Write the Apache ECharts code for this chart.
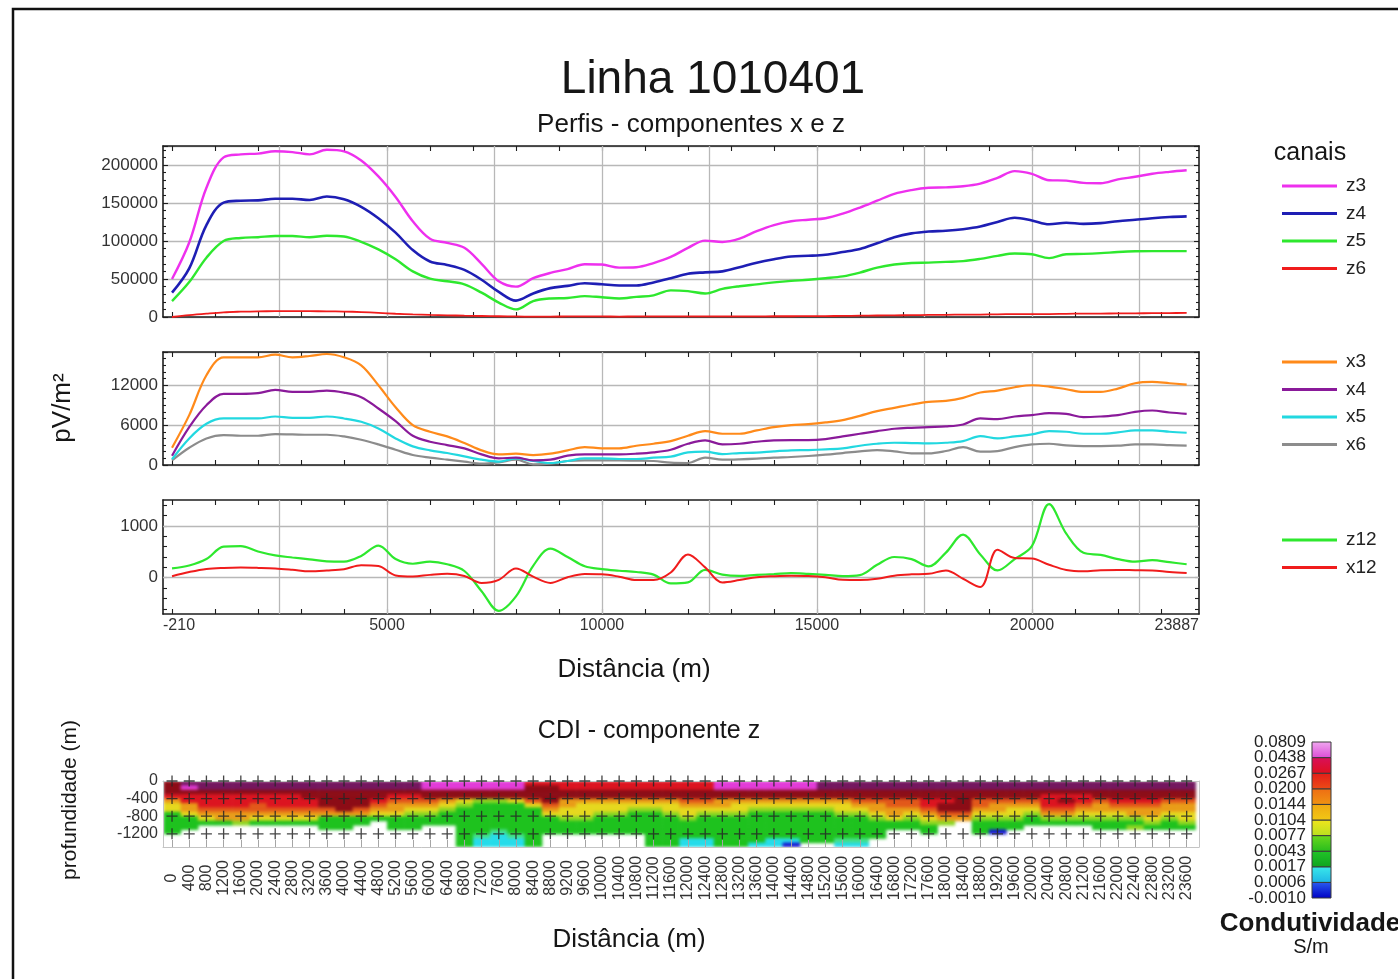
<!DOCTYPE html>
<html lang="pt">
<head>
<meta charset="utf-8">
<title>Linha 1010401</title>
<script src="https://cdn.jsdelivr.net/npm/echarts@6.0.0/dist/echarts.min.js"></script>
<style>
  html, body { margin: 0; padding: 0; background: #fff; }
  #wrap { position: relative; width: 1398px; height: 979px; }
  #chart { position: absolute; left: 0; top: 0; width: 1398px; height: 979px; }
  /* the CDI section is a smoothly interpolated model: its cells are drawn in their own layer and softened */
  #cdiClip { position: absolute; left: 163px; top: 781px; width: 1036px; height: 66px; overflow: hidden; }
  #cdi { position: absolute; left: -163px; top: -781px; width: 1398px; height: 979px; filter: blur(1.6px); }
</style>
</head>
<body>
<div id="wrap">
  <div id="cdiClip"><div id="cdi"></div></div>
  <div id="chart"></div>
</div>
<script>
// Stations along the line (m)
const distance = [0, 400, 800, 1200, 1600, 2000, 2400, 2800, 3200, 3600, 4000, 4400, 4800, 5200, 5600, 6000,
  6400, 6800, 7200, 7600, 8000, 8400, 8800, 9200, 9600, 10000, 10400, 10800, 11200, 11600, 12000, 12400,
  12800, 13200, 13600, 14000, 14400, 14800, 15200, 15600, 16000, 16400, 16800, 17200, 17600, 18000, 18400,
  18800, 19200, 19600, 20000, 20400, 20800, 21200, 21600, 22000, 22400, 22800, 23200, 23600];

// z channels (pV/m²)
const z3 = [50000, 98000, 170000, 210000, 214000, 215000, 218000, 217000, 214000, 220000, 218000, 206000, 185000,
  158000, 126000, 103000, 97500, 91000, 70000, 47000, 40000, 51000, 58000, 63000, 69500, 69000, 65000, 65500,
  71000, 79000, 91000, 100500, 98700, 103000, 113000, 121000, 126000, 128000, 130000, 136000, 144000, 153000,
  162000, 167000, 170000, 170600, 172000, 175500, 183000, 192000, 188400, 180000, 179500, 176500, 176000,
  181000, 184500, 188500, 191000, 193000];
const z4 = [32000, 64000, 121000, 150500, 153000, 153500, 155500, 155500, 154000, 158500, 155000, 145000, 130000,
  111000, 88000, 73000, 68500, 62000, 49000, 33000, 21500, 31000, 38000, 41000, 44500, 43000, 41500, 41500,
  45500, 51000, 57000, 58700, 60000, 65500, 71500, 76000, 79500, 80500, 82000, 85500, 89500, 97000, 105000,
  110000, 112500, 113500, 115500, 119000, 125000, 130500, 127000, 122000, 124000, 122500, 123500, 126000,
  128000, 130000, 131500, 132400];
const z5 = [21000, 46000, 78000, 100000, 104000, 105000, 106500, 106500, 105000, 107000, 106000, 99000, 89000,
  76000, 60000, 50500, 47000, 43000, 32000, 19000, 10000, 21000, 24400, 25000, 27500, 26000, 24400, 26500,
  28500, 35000, 34000, 31000, 37000, 40500, 43000, 45500, 47500, 49000, 51000, 53500, 58500, 65000, 69000,
  71000, 71500, 72500, 73500, 76500, 80500, 83500, 82500, 77500, 82500, 83000, 84000, 85500, 86500, 86700,
  86700, 86700];
const z6 = [0, 2500, 4500, 6200, 7000, 7500, 7600, 7700, 7600, 7500, 7200, 6500, 5500, 4300, 3400, 2700, 2200,
  1700, 1300, 1000, 700, 500, 600, 700, 800, 700, 600, 700, 800, 900, 800, 700, 800, 900, 900, 1000, 1000,
  1100, 1200, 1400, 1700, 2000, 2200, 2400, 2700, 2900, 3100, 3200, 3500, 3800, 3900, 3900, 4200, 4400, 4500,
  4700, 4900, 5000, 5200, 5300];

// x channels (pV/m²)
const x3 = [2600, 7500, 13500, 16200, 16200, 16200, 16600, 16200, 16400, 16700, 16200, 15000, 12000, 8700, 6000,
  5000, 4300, 3300, 2200, 1600, 1700, 1500, 1700, 2200, 2700, 2500, 2500, 2900, 3200, 3600, 4400, 5100, 4700,
  4700, 5200, 5700, 6000, 6150, 6400, 6750, 7400, 8100, 8600, 9100, 9500, 9650, 10100, 10900, 11200, 11700,
  12000, 11800, 11400, 11000, 11000, 11500, 12300, 12500, 12300, 12100];
const x4 = [1400, 5700, 9000, 10700, 10700, 10800, 11300, 11000, 11000, 11200, 10900, 10200, 8500, 6600, 4400,
  3500, 3000, 2500, 1600, 1000, 1100, 700, 800, 1400, 1600, 1600, 1600, 1700, 1900, 2300, 3200, 3700, 3100,
  3200, 3500, 3700, 3750, 3750, 3900, 4300, 4700, 5100, 5450, 5600, 5700, 5800, 6100, 7000, 6900, 7300, 7500,
  7800, 7700, 7200, 7300, 7500, 8000, 8200, 7900, 7700];
const x5 = [860, 4000, 6200, 7000, 7000, 7000, 7300, 7100, 7100, 7300, 7000, 6500, 5500, 4000, 2800, 2200, 1800,
  1300, 800, 500, 1000, 600, 300, 600, 1000, 1000, 900, 900, 1100, 1250, 1900, 2000, 1650, 1800, 1850, 2050,
  2200, 2250, 2350, 2500, 2900, 3200, 3350, 3300, 3250, 3350, 3600, 4350, 4000, 4300, 4600, 5100, 5000, 4700,
  4700, 4900, 5200, 5200, 5000, 4850];
const x6 = [700, 2600, 4000, 4500, 4400, 4400, 4650, 4600, 4550, 4550, 4300, 3800, 3100, 2300, 1500, 1100, 800,
  500, 200, 400, 800, 100, 200, 600, 700, 700, 700, 650, 600, 350, 300, 1100, 800, 850, 950, 1100, 1200, 1350,
  1550, 1800, 2050, 2250, 2050, 1750, 1750, 2100, 2700, 2000, 2100, 2700, 3100, 3200, 2950, 2850, 2850, 2900,
  3100, 3100, 3000, 2900];

// channel 12
const z12 = [180, 235, 360, 600, 610, 505, 430, 390, 355, 315, 310, 420, 620, 360, 270, 310, 260, 130, -260, -640,
  -360, 230, 560, 400, 220, 165, 135, 110, 60, -110, -90, 150, 60, 35, 55, 70, 90, 75, 55, 30, 50, 250, 400, 360,
  220, 485, 830, 450, 140, 360, 610, 1420, 850, 480, 440, 360, 310, 340, 300, 260];
const x12 = [30, 110, 170, 190, 195, 190, 180, 155, 125, 140, 165, 240, 225, 45, 25, 55, 75, 35, -100, -40, 180,
  20, -100, 10, 70, 65, 20, -45, -45, 100, 450, 200, -90, -45, 10, 30, 40, 35, 10, -40, -45, -20, 40, 65, 75,
  140, -20, -180, 540, 380, 370, 250, 150, 125, 145, 150, 145, 140, 110, 90];

// Distance axis
const xRange = [-210, 23887];
const xLabelValues = [-210, 5000, 10000, 15000, 20000, 23887];
const xGridValues = [2500, 5000, 7500, 10000, 12500, 15000, 17500, 20000, 22500];

// CDI section: one string per station, top to bottom in 100 m steps; '.' = no model
const cdiDepthLabels = [0, -400, -800, -1200];
const cdiColumns = [
  'dddrayyGGGGG...', 'pmdrraayGGG....', 'ppdrrroayG.....', 'ppdrrroaaG.....', 'ppdrrroaag.....',
  'ppdrrooayG.....', 'ppdrrroayG.....', 'ppdrrroayG.....', 'ppddrroayG.....', 'ppddddoaGGG....',
  'ppdddddaGGG....', 'ppddddoaGG.....', 'ppddroayG......', 'ppdroaayGGG....', 'ppdroaygGGG....',
  'mmddoaygGG.....', 'mmddaygGGG.....', 'mmddygGGGGGGGGG', 'mmddgGGGGGGGlcc', 'mmddgGGGGGGlccc',
  'mmddyGGGGGGGlcc', 'rdddoyGGGGGGGGG', 'rddddoayGGGG...', 'rrddaayygGGG...', 'rrddayyygGGG...',
  'rrddayygGGGG...', 'rrddayygGGGG...', 'rrddaygGGGGG...', 'rrddaygGGGGGGGG', 'rrddayygGGGGGGG',
  'rrddoayygGGGGcc', 'rrddoaygGGGGGcc', 'mmddaaygGGGGGGG', 'mmddayygGGGGGGG', 'mmddaygGGGGGGGc',
  'mmddaygGGGGGGcc', 'mmddaygGGGGGGcb', 'mmddaygGGGGGGG.', 'ppddaygGGGGGGG.', 'ppddayygGGGGGlc',
  'ppddoaygGGGGGlc', 'ppddoaaygGGGG..', 'ppddooaayGG....', 'ppddooaygGG....', 'ppddrroaygGG...',
  'ppddrddoag.....', 'ppdddddoa......', 'ppddooaygGGG...', 'ppddoaaygGGb...', 'ppddoayygGG....',
  'ppddoaygGG.....', 'ppdrrroagG.....', 'ppdrdroagG.....', 'ppdrroaygG.....', 'ppddoaaygGG....',
  'ppddroaygGG....', 'ppddroaagGg....', 'ppddroaaygG....', 'ppddoaaygGG....', 'ppddoaayygG....'
];
const cdiClassCodes = 'bclGgyaordmp';
const cdiPalette = ['#1414d2', '#26dcea', '#44e08a', '#1ec21e', '#8ed622', '#e6d81e',
                    '#e99c18', '#e2581a', '#dc1420', '#8c0c16', '#e23cd8', '#74175f'];

// Conductivity scale (S/m), bottom to top
const colorBounds = [-0.0010, 0.0006, 0.0017, 0.0043, 0.0077, 0.0104, 0.0144, 0.0200, 0.0267, 0.0438, 0.0809];
const colorbarColors = [
  ['#0000c4', '#2a5cf0'], ['#1eb4e6', '#3aeaea'], ['#0ea41e', '#22c428'], ['#26bc1e', '#6cd81c'],
  ['#b8e020', '#f2e41c'], ['#f2c814', '#f0a812'], ['#f09412', '#ee6c14'], ['#ec4c16', '#e41c18'],
  ['#e0101c', '#d8105c'], ['#dc4cd6', '#f0a8f0']
];

const FONT = '"Liberation Sans", Arial, Helvetica, sans-serif';
const DARK = '#1e1e1e';
const GRID_GRAY = '#b8b8b8';
const LABEL = '#333';

const minorX = [];
for (let v = 0; v <= 23000; v += 1000) minorX.push(v);
const minorCh12 = [];
for (let v = -600; v <= 1400; v += 200) minorCh12.push(v);

const pairs = vals => distance.map((d, i) => [d, vals[i]]);
const plain = v => String(v);

const frameStyle = { color: DARK, width: 1.6 };
const tickStyle = { color: DARK, width: 1.1 };

function profileX(gridIndex, position, withLabels) {
  return {
    type: 'value', gridIndex, position, min: xRange[0], max: xRange[1],
    axisLine: { show: true, onZero: false, lineStyle: frameStyle },
    axisTick: { show: true, inside: true, length: 5, customValues: minorX, lineStyle: tickStyle },
    axisLabel: withLabels ? {
      show: true, customValues: xLabelValues, fontSize: 16, color: LABEL, margin: 4,
      alignMinLabel: 'left', alignMaxLabel: 'right', formatter: plain
    } : { show: false },
    splitLine: { show: false }
  };
}

function profileY(gridIndex, position, cfg, withLabels) {
  const axis = {
    type: 'value', gridIndex, position, min: cfg.min, max: cfg.max,
    axisLine: { show: true, onZero: false, lineStyle: frameStyle },
    axisTick: { show: true, inside: true, length: 5, lineStyle: tickStyle },
    axisLabel: { show: withLabels, fontSize: 17, color: LABEL, margin: 5, formatter: plain },
    splitLine: { show: withLabels && !cfg.labels, lineStyle: { color: GRID_GRAY, width: 1.3 } }
  };
  if (cfg.labels) {
    axis.axisLabel.customValues = cfg.labels;
    axis.axisLabel.showMinLabel = true;
    axis.axisLabel.showMaxLabel = true;
    axis.axisTick.customValues = cfg.ticks;
    axis.axisTick.length = 4;
  } else {
    axis.interval = cfg.interval;
    axis.axisLabel.showMaxLabel = false;
    axis.minorTick = { show: true, splitNumber: cfg.minor, length: 3, lineStyle: tickStyle };
  }
  return axis;
}

function gridMarks(extraY) {
  const data = xGridValues.map(v => ({ xAxis: v }));
  (extraY || []).forEach(v => data.push({ yAxis: v }));
  return {
    silent: true, symbol: ['none', 'none'], z: 1, animation: false,
    label: { show: false }, emphasis: { disabled: true },
    lineStyle: { color: GRID_GRAY, width: 1.3, type: 'solid' }, data
  };
}

function profile(name, vals, color, width, axisIndex, marks) {
  const s = {
    name, type: 'line', xAxisIndex: axisIndex, yAxisIndex: axisIndex, data: pairs(vals),
    symbol: 'none', showSymbol: false, smooth: 0.35, color, silent: true, z: 3,
    lineStyle: { color, width }
  };
  if (marks) s.markLine = marks;
  return s;
}

// CDI cells, one rect per station and 100 m depth step
const cdiCells = [];
cdiColumns.forEach((col, k) => {
  for (let i = 0; i < col.length; i++) {
    const cls = cdiClassCodes.indexOf(col.charAt(i));
    if (cls >= 0) cdiCells.push([distance[k], -100 * i, cls]);
  }
});
const crossMarks = [];
distance.forEach(d => cdiDepthLabels.forEach(z => crossMarks.push([d, z])));

const grayLine = { color: '#c4c4c4', width: 1 };
const cdiGrid = { left: 163, top: 781, width: 1036, height: 66, outerBoundsMode: 'none' };
// colour scale: bins 0..10 on a value axis padded by half a bin
const scaleGrid = { left: 1312, top: 734.2, width: 19, height: 171.6, outerBoundsMode: 'none' };
const scaleIndex = colorBounds.map((b, i) => i);

function scaleAxis(gridIndex, labelValues) {
  return {
    type: 'value', gridIndex, min: -0.5, max: 10.5,
    axisLine: { show: false }, axisTick: { show: false }, splitLine: { show: false },
    axisLabel: {
      show: true, customValues: labelValues, fontSize: 17, color: '#222', margin: 6,
      showMinLabel: true, showMaxLabel: true, hideOverlap: false,
      formatter: v => colorBounds[Math.round(v)].toFixed(4)
    }
  };
}

const legendBase = {
  orient: 'vertical', left: 1282, padding: 0, itemWidth: 55, itemHeight: 3, icon: 'rect',
  itemGap: 7.5, selectedMode: false,
  textStyle: { fontSize: 19, color: '#222', lineHeight: 20, padding: [0, 0, 0, 4], fontFamily: FONT }
};

const texts = [
  { text: 'Linha 1010401', x: 713, y: 80, size: 46 },
  { text: 'Perfis - componentes x e z', x: 691, y: 125, size: 26 },
  { text: 'canais', x: 1310, y: 153, size: 25 },
  { text: 'pV/m²', x: 63, y: 408, size: 26, rotate: true },
  { text: 'Distância (m)', x: 634, y: 670, size: 26 },
  { text: 'CDI - componente z', x: 649, y: 731, size: 25 },
  { text: 'profundidade (m)', x: 70, y: 800, size: 21, rotate: true },
  { text: 'Distância (m)', x: 629, y: 940, size: 26 },
  { text: 'Condutividade', x: 1310, y: 924, size: 26, bold: true },
  { text: 'S/m', x: 1311, y: 947, size: 20 }
];

const graphic = [{
  type: 'rect', silent: true, shape: { x: 13, y: 9, width: 1420, height: 1000 },
  style: { fill: 'none', stroke: '#111', lineWidth: 2.5 }
}].concat(texts.map(t => ({
  type: 'text', silent: true, x: t.x, y: t.y, rotation: t.rotate ? Math.PI / 2 : 0,
  style: {
    text: t.text, fill: '#161616', align: 'center', verticalAlign: 'middle',
    fontSize: t.size, fontWeight: t.bold ? 'bold' : 'normal', fontFamily: FONT
  }
})));

// Softened CDI model layer (same grid geometry as the section frame)
const cdiOption = {
  animation: false,
  grid: [cdiGrid],
  xAxis: [{ type: 'value', min: xRange[0], max: xRange[1], show: false }],
  yAxis: [{ type: 'value', min: -1500, max: 0, show: false }],
  series: [{
    type: 'custom', name: 'CDI', silent: true, clip: true, data: cdiCells,
    renderItem(params, api) {
      const x = api.value(0), top = api.value(1);
      const p0 = api.coord([x - 200, top]);
      const p1 = api.coord([x + 200, top - 100]);
      return {
        type: 'rect',
        shape: { x: p0[0], y: p0[1], width: p1[0] - p0[0] + 0.6, height: p1[1] - p0[1] + 0.6 },
        style: { fill: cdiPalette[api.value(2)] }
      };
    }
  }]
};

const option = {
  animation: false,
  backgroundColor: 'transparent',
  textStyle: { fontFamily: FONT },
  graphic,
  legend: [
    Object.assign({}, legendBase, { top: 176, data: ['z3', 'z4', 'z5', 'z6'] }),
    Object.assign({}, legendBase, { top: 352, data: ['x3', 'x4', 'x5', 'x6'] }),
    Object.assign({}, legendBase, { top: 530, data: ['z12', 'x12'] })
  ],
  grid: [
    { left: 163, top: 146, width: 1036, height: 171, outerBoundsMode: 'none' },
    { left: 163, top: 352, width: 1036, height: 113, outerBoundsMode: 'none' },
    { left: 163, top: 500, width: 1036, height: 114, outerBoundsMode: 'none' },
    cdiGrid,
    scaleGrid,
    Object.assign({}, scaleGrid)
  ],
  xAxis: [
    profileX(0, 'bottom', false), profileX(0, 'top', false),
    profileX(1, 'bottom', false), profileX(1, 'top', false),
    profileX(2, 'bottom', true), profileX(2, 'top', false),
    {
      type: 'value', gridIndex: 3, position: 'bottom', min: xRange[0], max: xRange[1],
      axisLine: { show: true, onZero: false, lineStyle: grayLine },
      axisTick: { show: true, inside: true, length: 7, customValues: distance, lineStyle: { color: '#a6a6a6' } },
      axisLabel: {
        show: true, customValues: distance, rotate: 90, align: 'center', verticalAlign: 'middle',
        fontSize: 16, color: LABEL, margin: 31, formatter: plain
      },
      splitLine: { show: false }
    },
    {
      type: 'value', gridIndex: 3, position: 'top', min: xRange[0], max: xRange[1],
      axisLine: { show: true, onZero: false, lineStyle: grayLine },
      axisTick: { show: false }, axisLabel: { show: false }, splitLine: { show: false }
    },
    { type: 'value', gridIndex: 4, min: 0, max: 1, show: false },
    { type: 'value', gridIndex: 5, min: 0, max: 1, show: false }
  ],
  yAxis: [
    profileY(0, 'left', { min: 0, max: 225000, interval: 50000, minor: 5 }, true),
    profileY(0, 'right', { min: 0, max: 225000, interval: 50000, minor: 5 }, false),
    profileY(1, 'left', { min: 0, max: 17000, interval: 6000, minor: 6 }, true),
    profileY(1, 'right', { min: 0, max: 17000, interval: 6000, minor: 6 }, false),
    profileY(2, 'left', { min: -700, max: 1500, labels: [0, 1000], ticks: minorCh12 }, true),
    profileY(2, 'right', { min: -700, max: 1500, labels: [0, 1000], ticks: minorCh12 }, false),
    {
      type: 'value', gridIndex: 3, position: 'left', min: -1500, max: 0,
      axisLine: { show: true, onZero: false, lineStyle: grayLine },
      axisTick: { show: false },
      axisLabel: {
        show: true, customValues: cdiDepthLabels, fontSize: 16, color: LABEL, margin: 5,
        showMinLabel: true, showMaxLabel: true, formatter: plain
      },
      splitLine: { show: false }
    },
    {
      type: 'value', gridIndex: 3, position: 'right', min: -1500, max: 0,
      axisLine: { show: true, onZero: false, lineStyle: grayLine },
      axisTick: { show: false }, axisLabel: { show: false }, splitLine: { show: false }
    },
    // boundary labels split over two overlaid axes so neighbouring labels never collide
    scaleAxis(4, scaleIndex.filter(i => i % 2 === 0)),
    scaleAxis(5, scaleIndex.filter(i => i % 2 === 1))
  ],
  series: [
    profile('z6', z6, '#f01c1c', 1.8, 0, gridMarks()),
    profile('z5', z5, '#2ee82e', 2.4, 0),
    profile('z4', z4, '#1e1eb4', 2.6, 0),
    profile('z3', z3, '#ee30ee', 2.4, 0),
    profile('x6', x6, '#8c8c8c', 2.2, 2, gridMarks()),
    profile('x5', x5, '#22d8e0', 2.2, 2),
    profile('x4', x4, '#8a1a9a', 2.2, 2),
    profile('x3', x3, '#ff8a1a', 2.2, 2),
    profile('z12', z12, '#2ee82e', 2.2, 4, gridMarks([0, 1000])),
    profile('x12', x12, '#f01c1c', 2.0, 4),
    {
      type: 'scatter', name: 'grade', xAxisIndex: 6, yAxisIndex: 6, silent: true, z: 4,
      data: crossMarks, symbolSize: 11, symbolKeepAspect: true,
      symbol: 'path://M4.4,0H5.6V4.4H10V5.6H5.6V10H4.4V5.6H0V4.4H4.4Z',
      itemStyle: { color: '#262626', opacity: 0.85 }
    },
    {
      type: 'custom', name: 'escala', xAxisIndex: 8, yAxisIndex: 8, silent: true, z: 2,
      data: colorbarColors.map((c, i) => [0, i]),
      renderItem(params, api) {
        const i = api.value(1);
        const p0 = api.coord([0, i + 1]);
        const p1 = api.coord([1, i]);
        const c = colorbarColors[i];
        return {
          type: 'rect',
          shape: { x: p0[0], y: p0[1], width: p1[0] - p0[0], height: p1[1] - p0[1] },
          style: {
            fill: new echarts.graphic.LinearGradient(0, 1, 0, 0, [
              { offset: 0, color: c[0] }, { offset: 1, color: c[1] }
            ]),
            stroke: '#3a3a3a', lineWidth: 1
          }
        };
      }
    }
  ]
};

echarts.init(document.getElementById('cdi')).setOption(cdiOption);
echarts.init(document.getElementById('chart')).setOption(option);
</script>
</body>
</html>
